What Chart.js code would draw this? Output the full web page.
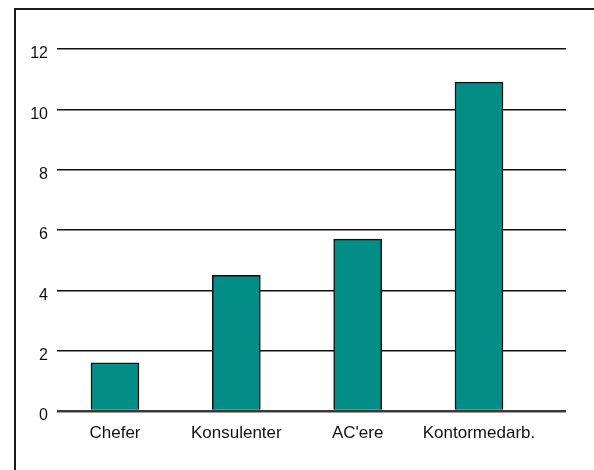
<!DOCTYPE html>
<html>
<head>
<meta charset="utf-8">
<script src="https://cdn.jsdelivr.net/npm/chart.js@4/dist/chart.umd.min.js"></script>
<style>
  html, body { margin: 0; padding: 0; background: #fff; }
  #wrap { position: relative; width: 594px; height: 470px; overflow: hidden; }
  #frame { position: absolute; left: 14px; top: 8px; width: 700px; height: 600px;
           border-left: 2px solid #1a1a1a; border-top: 2px solid #1a1a1a; }
  canvas { position: absolute; left: 0; top: 0; }
</style>
</head>
<body>
<div id="wrap">
  <div id="frame"></div>
  <canvas id="c" width="594" height="470"></canvas>
</div>
<script>
const categories = ["Chefer", "Konsulenter", "AC'ere", "Kontormedarb."];
const values = [1.6, 4.5, 5.7, 10.9];
const yTicks = [0, 2, 4, 6, 8, 10, 12];

const yFont = { family: "'Liberation Sans', Arial, sans-serif", size: 16 };
const xFont = { family: "'Liberation Sans', Arial, sans-serif", size: 17 };

new Chart(document.getElementById('c'), {
  type: 'bar',
  data: {
    datasets: [{
      data: values.map((v, i) => ({ x: i, y: v })),
      backgroundColor: '#028e87',
      borderColor: '#111',
      borderWidth: 1.5,
      barThickness: 48
    }]
  },
  options: {
    responsive: false,
    animation: false,
    layout: { padding: { top: 49, right: 28, bottom: 0, left: 0 } },
    plugins: { legend: { display: false }, tooltip: { enabled: false } },
    scales: {
      x: {
        type: 'linear',
        offset: false,
        bounds: 'ticks',
        min: -0.478,
        max: 3.717,
        grid: { display: false, drawTicks: false, offset: false },
        border: { display: false },
        afterBuildTicks: s => { s.ticks = categories.map((c, i) => ({ value: i })); },
        afterFit: s => { s.height = 59; },
        ticks: {
          font: xFont, color: '#111', padding: 12, autoSkip: false, maxRotation: 0,
          callback: v => categories[v]
        }
      },
      y: {
        min: 0, max: 12,
        grid: {
          drawTicks: false,
          color: ctx => ctx.tick && ctx.tick.value === 0 ? '#3a3a3a' : '#111',
          lineWidth: ctx => ctx.tick && ctx.tick.value === 0 ? 2.5 : 1.5
        },
        border: { display: false },
        afterBuildTicks: s => { s.ticks = yTicks.map(v => ({ value: v })); },
        afterFit: s => { s.width = 57; },
        ticks: { font: yFont, color: '#111', padding: 9, labelOffset: 5 }
      }
    }
  }
});
</script>
</body>
</html>
